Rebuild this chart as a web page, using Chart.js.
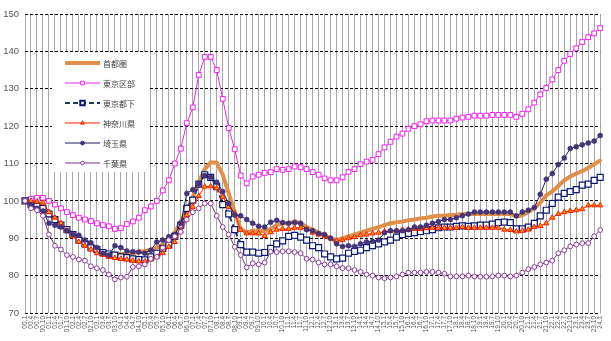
<!DOCTYPE html>
<html>
<head>
<meta charset="utf-8">
<script src="https://cdn.jsdelivr.net/npm/chart.js@4.4.0/dist/chart.umd.min.js"></script>
<style>
  html, body { margin: 0; padding: 0; background: #fff; }
  canvas { display: block; }
</style>
</head>
<body>
<canvas id="myChart" width="611" height="341"></canvas>
<script>
// quarterly index, 2000 Q1 = 100
const years = ['00','01','02','03','04','05','06','07','08','09','10','11','12',
               '13','14','15','16','17','18','19','20','21','22','23','24'];
const months = ['1','4','7','10'];
const yTicks = [70, 80, 90, 100, 110, 120, 130, 140, 150];

const shutoken = [
  100, 99.7, 99.3, 98.3, 96.5, 95, 93.5, 92.3, 91, 90,
  89, 88, 87, 86.5, 86, 85.8, 85.8, 85.8, 86, 86.3,
  86.5, 87, 87.5, 88.3, 90, 91.5, 94.5, 97.5, 101, 105,
  108.5, 110.3, 110.2, 107, 102, 97, 92.5, 91.5, 92, 92,
  91.8, 92.5, 93.5, 94, 94, 94.5, 94, 93, 92.3, 91.5,
  90.8, 90, 89.5, 90, 90.5, 91, 91.5, 92, 92.5, 93,
  93.5, 94, 94.3, 94.5, 94.8, 95, 95.3, 95.5, 95.8, 96,
  96, 96.2, 96.3, 96.5, 96.5, 96.5, 96.5, 96.5, 96.5, 96.5,
  96.5, 96.5, 95.8, 96.2, 97, 98, 99.5, 101.5, 102.5, 104,
  105.5, 106.5, 107.3, 108, 108.8, 109.8, 110.8
];
const tokyoKubu = [
  100, 100.5, 100.8, 100.8, 100, 99, 98, 97, 96.2, 95.5,
  95, 94.6, 94, 93.5, 93.2, 92.5, 92.7, 93.8, 94.5, 95.5,
  97.5, 98.5, 100, 102.8, 105.5, 110, 114, 120.8, 125, 133.7,
  138.5, 138.5, 135, 127.3, 119.5, 113.8, 106.8, 104.7, 106.5, 107,
  107.5, 107.7, 108.5, 108.3, 108.5, 109.2, 109, 108.5, 107.7, 107,
  106, 105.5, 105.5, 106.3, 107.8, 108.5, 109.8, 110.5, 111, 112.5,
  114.3, 115.8, 117.2, 118, 119.3, 120, 120.5, 121.3, 121.5, 121.5,
  121.5, 121.5, 122, 122.3, 122.5, 122.8, 122.8, 122.8, 123, 123,
  123, 123, 122.5, 123.3, 124.5, 126.3, 128.5, 130.2, 132.5, 135,
  137.5, 139.3, 140.8, 142.5, 143.8, 144.8, 146.2
];
const tokyoTama = [
  100, 99, 98.5, 98, 96.5, 95, 93.5, 92.3, 91, 89.5,
  88.5, 87.5, 87, 86.2, 85.8, 85.5, 85, 84.8, 84.5, 84.3,
  84.2, 85, 86, 87.3, 88.2, 90.5, 93.5, 98, 100.2, 104.5,
  107, 106.3, 103.8, 99, 96.5, 92.3, 88.3, 86.3, 86.3, 86,
  86.2, 87.3, 88.5, 89.3, 90.5, 90.8, 90.3, 89.5, 88, 87.5,
  85.8, 85, 84.5, 84.7, 86, 86.5, 86.8, 87.5, 88, 88.5,
  89, 89.5, 90.3, 91, 91.3, 91.5, 91.8, 92, 92.3, 92.8,
  93, 93, 93.2, 93.3, 93.2, 93.3, 93.5, 93.5, 93.8, 94.2,
  94.3, 94.2, 92.5, 92.5, 93, 94, 96, 97.5, 99.3, 101,
  102, 102.5, 103, 104.2, 104.5, 105.5, 106.3
];
const kanagawa = [
  100, 100, 99.8, 99.5, 97, 95.5, 94, 92, 90.5, 89,
  88, 87, 86, 85.5, 85, 84.7, 84.5, 84.3, 84, 83.8,
  83.8, 84.3, 85, 86, 87.7, 89, 92, 96.2, 98.4, 101.3,
  103.8, 103.9, 103.4, 101.1, 98.4, 96.7, 92.2, 91.3, 91.3, 91.3,
  90.6, 91.6, 92.3, 92.5, 92.5, 92.8, 92.8, 92.5, 91.5, 91,
  90.5, 90, 89.3, 89.5, 90, 90.3, 90.8, 91, 91.3, 91.5,
  91.8, 92, 92, 92.3, 92.3, 92.5, 92.5, 92.7, 92.8, 92.8,
  92.8, 92.8, 92.8, 93, 92.8, 92.8, 92.8, 92.8, 92.8, 92.8,
  92.3, 92.2, 91.8, 92, 92.3, 93, 93.3, 94, 95.5, 96.5,
  97, 97.3, 97.5, 97.8, 98.8, 98.8, 98.8
];
const saitama = [
  100, 99, 98, 97.3, 94, 93.5, 93, 92, 91, 90.8,
  89.5, 88.8, 87.5, 86, 85.5, 88, 87.5, 86.6, 86.4, 86.3,
  86, 86.8, 89, 89.5, 90.4, 91, 94, 102, 103, 104.5,
  106.8, 106.3, 105, 102.5, 99.3, 96.2, 96, 95, 94, 93.2,
  93, 94.3, 94.8, 94.2, 94, 94.2, 94, 92.3, 92, 91.3,
  91, 90, 88.5, 87.8, 88, 87.8, 88.5, 89, 89.2, 89.5,
  91.5, 92, 92, 92, 92.3, 93, 93, 93.5, 94, 94.5,
  95, 95, 95.5, 96, 96.5, 97, 97, 97, 97, 97,
  97, 97, 96, 97, 97.5, 98.2, 101.8, 105.8, 107.3, 109.7,
  111.5, 114, 114.5, 115, 115.5, 116, 117.5
];
const chiba = [
  100, 98, 97.5, 96, 91, 88, 87, 85.5, 85, 84.3,
  84, 82.5, 82, 81.5, 80.3, 79, 79.5, 79.7, 82.3, 82.5,
  83, 84.5, 85, 87.5, 89.5, 90.5, 91.7, 95, 97, 98,
  99.3, 99.3, 96, 93, 91, 87.7, 85.5, 82.2, 83.3, 83,
  83.5, 86.4, 86.3, 86.5, 86.5, 86.3, 86, 84.5, 84.3, 83.5,
  83, 83, 82.5, 82, 82, 81.5, 81, 80.3, 80, 79.5,
  79.3, 79.5, 79.8, 80.3, 80.8, 80.8, 80.8, 81, 81, 80.8,
  80.5, 79.8, 79.8, 79.8, 80, 79.8, 79.7, 79.7, 79.8, 80,
  80, 79.8, 80, 80.8, 81.7, 82.3, 83, 83.5, 84, 86,
  86.8, 87.8, 88.3, 88.7, 88.7, 90.5, 92.2
];

// 00.1, 00.4, ... 24.1
const labels = [];
years.forEach(y => {
  months.forEach(m => {
    if (y === '24' && m !== '1') return;
    labels.push(y + '.' + m);
  });
});

// legend sits inside the plot, on a white panel
const legendBox = {
  id: 'legendBox',
  beforeDatasetsDraw(chart) {
    const ctx = chart.ctx;
    ctx.save();
    ctx.fillStyle = '#ffffff';
    ctx.fillRect(52, 52, 96, 120);
    chart.data.datasets.forEach((ds, i) => {
      const y = 63 + i * 20;
      ctx.beginPath();
      ctx.setLineDash(ds.borderDash || []);
      ctx.lineWidth = ds.borderWidth;
      ctx.strokeStyle = ds.borderColor;
      ctx.moveTo(65, y);
      ctx.lineTo(100, y);
      ctx.stroke();
      ctx.setLineDash([]);
      if (ds.legendMarker) {
        ctx.fillStyle = ds.pointBackgroundColor;
        ctx.strokeStyle = ds.pointBorderColor;
        Chart.helpers.drawPoint(ctx, {
          pointStyle: ds.pointStyle,
          radius: ds.pointRadius * 0.75,
          borderWidth: ds.pointBorderWidth
        }, 82.5, y);
      }
      ctx.fillStyle = '#404040';
      ctx.font = '8px "Noto Sans CJK JP"';
      ctx.textBaseline = 'middle';
      ctx.fillText(ds.label, 103, y + 0.5);
    });
    ctx.restore();
  }
};

const ctx = document.getElementById('myChart');
const chart = new Chart(ctx, {
  type: 'line',
  data: {
    labels: labels,
    datasets: [
      {
        label: '首都圏', data: shutoken, order: 6,
        borderColor: '#E0904A', backgroundColor: '#E0904A', borderWidth: 4,
        pointStyle: 'circle', pointRadius: 1.8, pointBorderWidth: 0,
        pointBackgroundColor: '#E0904A', pointBorderColor: '#E0904A',
        legendMarker: false
      },
      {
        label: '東京区部', data: tokyoKubu, order: 5,
        borderColor: '#F020F0', backgroundColor: '#F020F0', borderWidth: 1,
        pointStyle: 'rect', pointRadius: 3.4, pointBorderWidth: 1,
        pointBackgroundColor: '#ffffff', pointBorderColor: '#F020F0',
        legendMarker: true
      },
      {
        label: '東京都下', data: tokyoTama, order: 4,
        borderColor: '#1F3370', backgroundColor: '#1F3370', borderWidth: 2,
        borderDash: [5, 3],
        pointStyle: 'rect', pointRadius: 4.2, pointBorderWidth: 1.2,
        pointBackgroundColor: '#ffffff', pointBorderColor: '#0A1A70',
        legendMarker: true
      },
      {
        label: '神奈川県', data: kanagawa, order: 3,
        borderColor: '#FF1A00', backgroundColor: '#FF1A00', borderWidth: 1,
        pointStyle: 'triangle', pointRadius: 3, pointBorderWidth: 1,
        pointBackgroundColor: '#FF9A00', pointBorderColor: '#FF1A00',
        legendMarker: true
      },
      {
        label: '埼玉県', data: saitama, order: 2,
        borderColor: '#1A1F5C', backgroundColor: '#1A1F5C', borderWidth: 1,
        pointStyle: 'circle', pointRadius: 2.5, pointBorderWidth: 0.5,
        pointBackgroundColor: '#45357A', pointBorderColor: '#3A2A70',
        legendMarker: true
      },
      {
        label: '千葉県', data: chiba, order: 1,
        borderColor: '#7A2A8C', backgroundColor: '#7A2A8C', borderWidth: 1,
        pointStyle: 'circle', pointRadius: 2.4, pointBorderWidth: 1,
        pointBackgroundColor: '#ffffff', pointBorderColor: '#8A3A9C',
        legendMarker: true
      }
    ]
  },
  options: {
    responsive: false,
    animation: false,
    devicePixelRatio: 1,
    layout: { padding: { top: 14, right: 8, left: 0, bottom: 0 } },
    elements: { line: { tension: 0 } },
    plugins: {
      legend: { display: false },
      tooltip: { enabled: false }
    },
    scales: {
      x: {
        offset: false,
        grid: { color: '#A6A6A6', lineWidth: 1, drawTicks: false },
        border: { display: false },
        ticks: {
          autoSkip: false, maxRotation: 90, minRotation: 90,
          padding: 3, color: '#595959',
          font: { family: 'Liberation Sans', size: 6.5 }
        },
        afterFit(scale) { scale.height = 28; }
      },
      y: {
        min: 70, max: 150,
        afterBuildTicks(scale) { scale.ticks = yTicks.map(v => ({ value: v })); },
        grid: { color: '#000000', lineWidth: 1, drawTicks: false },
        border: { display: false, dash: [3, 2] },
        ticks: {
          padding: 6, color: '#595959',
          font: { family: 'Liberation Sans', size: 9.5 }
        },
        afterFit(scale) { scale.width = 25; }
      }
    }
  },
  plugins: [legendBox]
});
</script>
</body>
</html>
